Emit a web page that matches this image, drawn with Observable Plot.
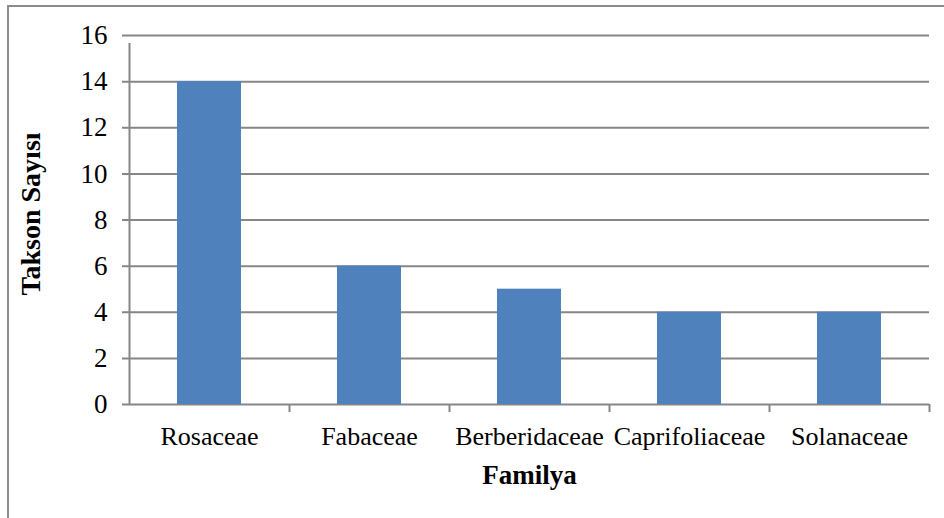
<!DOCTYPE html>
<html>
<head>
<meta charset="utf-8">
<script src="https://cdn.jsdelivr.net/npm/d3@7"></script>
<script src="https://cdn.jsdelivr.net/npm/@observablehq/plot@0.6"></script>
<style>
  html, body { margin: 0; padding: 0; background: #fff; overflow: hidden; }
  #wrap { position: relative; width: 944px; height: 518px; }
  #border { position: absolute; left: 7px; top: 5px; width: 1000px; height: 1000px;
            border: 2px solid #8c8c8c; box-sizing: border-box; pointer-events: none; }
  svg { display: block; }
</style>
</head>
<body>
<div id="wrap"><div id="border"></div></div>
<script>
const families = ["Rosaceae", "Fabaceae", "Berberidaceae", "Caprifoliaceae", "Solanaceae"];
const taxonCounts = [14, 6, 5, 4, 4];
const yTicks = [0, 2, 4, 6, 8, 10, 12, 14, 16];
const xTitle = "Familya";
const yTitle = "Takson Sayısı";

const data = families.map((f, i) => ({family: f, count: taxonCounts[i]}));
const gridColor = "#868686";
const font = "'Liberation Serif', 'Times New Roman', serif";
const halfStep = 80;

const chart = Plot.plot({
  width: 944,
  height: 518,
  marginLeft: 129,
  marginRight: 15,
  marginTop: 35,
  marginBottom: 114,
  style: {fontFamily: font, fontSize: "26px", color: "#000", background: "transparent"},
  x: {domain: families, type: "band", paddingInner: 0.6, paddingOuter: 0.3, align: 0.5, axis: null},
  y: {domain: [0, 16], axis: null},
  marks: [
    Plot.ruleY(yTicks, {y: d => d, stroke: gridColor, strokeWidth: 2, insetLeft: -7}),
    Plot.barY(data, {x: "family", y: "count", fill: "#4F81BD"}),
    Plot.ruleX([families[0]], {x: d => d, y1: 0, y2: 16, dx: -halfStep, stroke: gridColor, strokeWidth: 2, insetBottom: -8}),
    Plot.ruleX(families, {x: d => d, y1: 0, y2: 0, dx: halfStep, stroke: gridColor, strokeWidth: 2, insetBottom: -8}),
    Plot.axisY(yTicks, {tickSize: 0, tickPadding: 22, fontSize: 27, label: null, tickFormat: d => String(d)}),
    Plot.axisX(families, {tickSize: 0, tickPadding: 22, fontSize: 26, label: null}),
    Plot.text([xTitle], {frameAnchor: "bottom", dy: 79, fontSize: 27, fontWeight: "bold", fill: "#000"}),
    Plot.text([yTitle], {frameAnchor: "left", textAnchor: "middle", dx: -98, dy: -6, rotate: -90, fontSize: 28, fontWeight: "bold", fill: "#000"})
  ]
});
document.getElementById("wrap").prepend(chart);
</script>
</body>
</html>
